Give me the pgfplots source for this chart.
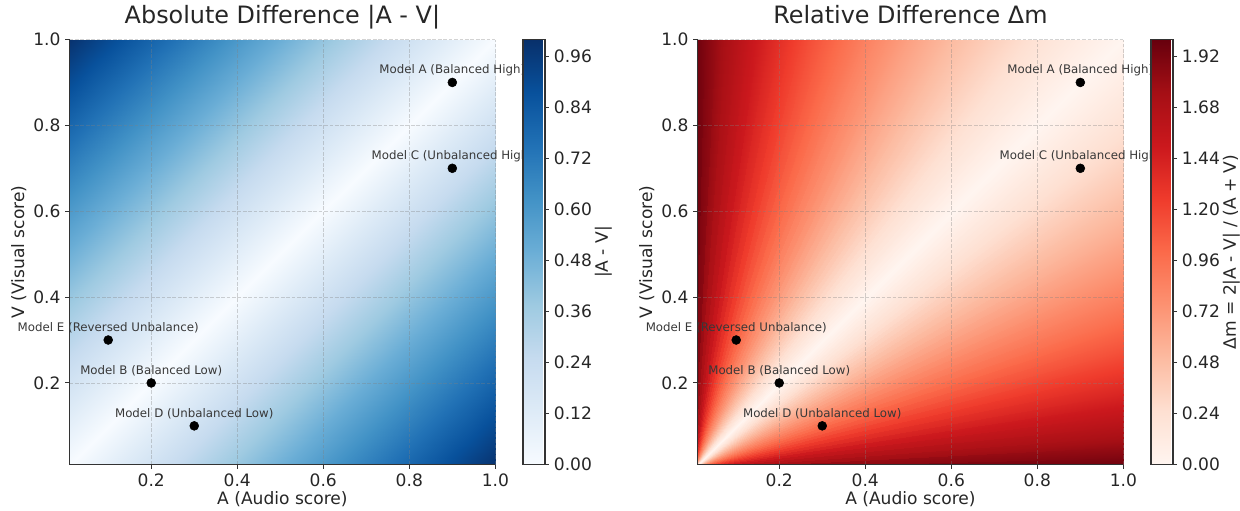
\documentclass[border=0pt]{standalone}
\usepackage{fontspec}
\setmainfont{DejaVu Sans}
\usepackage{pgfplots}
\pgfplotsset{compat=1.18}

\definecolor{txt}{HTML}{262626}
\definecolor{spine}{HTML}{333333}

\pgfplotsset{
  colormap={mplblues}{rgb255=(247,251,255) rgb255=(222,235,247) rgb255=(198,219,239) rgb255=(158,202,225) rgb255=(107,174,214) rgb255=(66,146,198) rgb255=(33,113,181) rgb255=(8,81,156) rgb255=(8,48,107)},
  colormap={mplreds}{rgb255=(255,245,240) rgb255=(254,224,210) rgb255=(252,187,161) rgb255=(252,146,114) rgb255=(251,106,74) rgb255=(239,59,44) rgb255=(203,24,29) rgb255=(165,15,21) rgb255=(103,0,13)},
  every axis/.append style={
    /pgf/number format/assume math mode=true,
    tick label style={font=\fontsize{12.3}{14}\selectfont, text=txt},
    label style={font=\fontsize{12.3}{14}\selectfont, text=txt},
  },
  heat/.style={
    scale only axis, width=306.6pt, height=306pt,
    xmin=0.01, xmax=1, ymin=0.01, ymax=1,
    axis on top,
    axis lines*=left,
    axis line style={spine, line width=1pt},
    xtick={0.2,0.4,0.6,0.8,1.0}, ytick={0.2,0.4,0.6,0.8,1.0},
    tick align=outside, major tick length=3pt,
    tick style={spine, line width=0.8pt},
    xticklabel style={/pgf/number format/.cd, fixed, fixed zerofill, precision=1},
    yticklabel style={/pgf/number format/.cd, fixed, fixed zerofill, precision=1},
    grid=major,
    major grid style={gray, opacity=0.35, line width=0.55pt, dash pattern=on 2.7pt off 1.2pt},
    title style={font=\fontsize{17.2}{20}\selectfont, text=txt, at={(0.5,1)}, anchor=base, yshift=5.8pt},
    xlabel style={at={(axis description cs:0.5,0)}, anchor=base, yshift=-28.7pt},
    ylabel style={at={(axis description cs:-0.119,0.5)}, anchor=center},
    xlabel={A (Audio score)},
    ylabel={V (Visual score)},
    colorbar,
  },
  cbar/.style={
    at={(parent axis.north east)}, anchor=north west, xshift=11.5pt,
    scale only axis, width=15.6pt, height=306pt,
    axis line style={spine, line width=1pt},
    xtick=\empty,
    ytick pos=right, yticklabel pos=right,
    tick align=outside, major tick length=3pt,
    tick style={spine, line width=0.8pt},
    yticklabel style={/pgf/number format/.cd, fixed, fixed zerofill, precision=2},
    every axis y label/.style={at={(axis description cs:3.70,0.5)}, rotate=90, anchor=center,
      font=\fontsize{12.3}{14}\selectfont, text=txt},
  },
  pts/.style={
    only marks, mark=*, mark size=3.2pt, black,
    nodes near coords, point meta=explicit symbolic,
    every node near coord/.append style={anchor=base, yshift=6.2pt, inner sep=0pt,
      font=\fontsize{8.5}{10}\selectfont, text=black!78},
  },
}

\begin{document}
\begin{tikzpicture}
\path[use as bounding box] (0,0) rectangle (892.8pt,367.2pt);

% ---------------- Left: absolute difference ----------------
\begin{axis}[heat,
  at={(50.04pt,32.76pt)}, anchor=south west,
  title={Absolute Difference |A - V|},
  colormap name=mplblues,
  point meta min=0, point meta max=1,
  colorbar style={cbar,
    ytick={0,0.12,0.24,0.36,0.48,0.60,0.72,0.84,0.96},
    ylabel={|A - V|}},
]
% rows of constant A - V (value |A - V|), five points along each row
\addplot[surf, shader=interp, mesh/rows=17, mesh/cols=5, point meta=explicit]
  table[meta=c] {
x y c
0.01 1.00 0.99
0.01 1.00 0.99
0.01 1.00 0.99
0.01 1.00 0.99
0.01 1.00 0.99
0.01 0.885 0.875
0.03875 0.91375 0.875
0.0675 0.9425 0.875
0.09625 0.97125 0.875
0.125 1.00 0.875
0.01 0.76 0.75
0.07 0.82 0.75
0.13 0.88 0.75
0.19 0.94 0.75
0.25 1.00 0.75
0.01 0.635 0.625
0.10125 0.72625 0.625
0.1925 0.8175 0.625
0.28375 0.90875 0.625
0.375 1.00 0.625
0.01 0.51 0.5
0.1325 0.6325 0.5
0.255 0.755 0.5
0.3775 0.8775 0.5
0.5 1.00 0.5
0.01 0.385 0.375
0.16375 0.53875 0.375
0.3175 0.6925 0.375
0.47125 0.84625 0.375
0.625 1.00 0.375
0.01 0.26 0.25
0.195 0.445 0.25
0.38 0.63 0.25
0.565 0.815 0.25
0.75 1.00 0.25
0.01 0.135 0.125
0.22625 0.35125 0.125
0.4425 0.5675 0.125
0.65875 0.78375 0.125
0.875 1.00 0.125
0.01 0.01 0.00
0.2575 0.2575 0.00
0.505 0.505 0.00
0.7525 0.7525 0.00
1.00 1.00 0.00
0.135 0.01 0.125
0.35125 0.22625 0.125
0.5675 0.4425 0.125
0.78375 0.65875 0.125
1.00 0.875 0.125
0.26 0.01 0.25
0.445 0.195 0.25
0.63 0.38 0.25
0.815 0.565 0.25
1.00 0.75 0.25
0.385 0.01 0.375
0.53875 0.16375 0.375
0.6925 0.3175 0.375
0.84625 0.47125 0.375
1.00 0.625 0.375
0.51 0.01 0.5
0.6325 0.1325 0.5
0.755 0.255 0.5
0.8775 0.3775 0.5
1.00 0.5 0.5
0.635 0.01 0.625
0.72625 0.10125 0.625
0.8175 0.1925 0.625
0.90875 0.28375 0.625
1.00 0.375 0.625
0.76 0.01 0.75
0.82 0.07 0.75
0.88 0.13 0.75
0.94 0.19 0.75
1.00 0.25 0.75
0.885 0.01 0.875
0.91375 0.03875 0.875
0.9425 0.0675 0.875
0.97125 0.09625 0.875
1.00 0.125 0.875
1.00 0.01 0.99
1.00 0.01 0.99
1.00 0.01 0.99
1.00 0.01 0.99
1.00 0.01 0.99
};
\addplot[pts] table[col sep=comma, meta=label] {
x,y,label
0.9,0.9,Model A (Balanced High)
0.2,0.2,Model B (Balanced Low)
0.9,0.7,Model C (Unbalanced High)
0.3,0.1,Model D (Unbalanced Low)
0.1,0.3,Model E (Reversed Unbalance)
};
\end{axis}

% ---------------- Right: relative difference ----------------
\begin{axis}[heat,
  at={(502.2pt,32.76pt)}, anchor=south west,
  title={Relative Difference Δm},
  colormap name=mplreds,
  point meta min=0, point meta max=2,
  colorbar style={cbar,
    ytick={0,0.24,0.48,0.72,0.96,1.20,1.44,1.68,1.92},
    ylabel={Δm = 2|A - V| / (A + V)}},
]
% rays from the origin: Δm is constant along each ray V/A = const
\addplot[surf, shader=interp, mesh/rows=81, mesh/cols=2, point meta=explicit]
  table[meta=c] {
x y c
0 0 2.0000
1.00 0.000 2.0000
0 0 1.9024
1.00 0.025 1.9024
0 0 1.8095
1.00 0.050 1.8095
0 0 1.7209
1.00 0.075 1.7209
0 0 1.6364
1.00 0.100 1.6364
0 0 1.5556
1.00 0.125 1.5556
0 0 1.4783
1.00 0.150 1.4783
0 0 1.4043
1.00 0.175 1.4043
0 0 1.3333
1.00 0.200 1.3333
0 0 1.2653
1.00 0.225 1.2653
0 0 1.2000
1.00 0.250 1.2000
0 0 1.1373
1.00 0.275 1.1373
0 0 1.0769
1.00 0.300 1.0769
0 0 1.0189
1.00 0.325 1.0189
0 0 0.9630
1.00 0.350 0.9630
0 0 0.9091
1.00 0.375 0.9091
0 0 0.8571
1.00 0.400 0.8571
0 0 0.8070
1.00 0.425 0.8070
0 0 0.7586
1.00 0.450 0.7586
0 0 0.7119
1.00 0.475 0.7119
0 0 0.6667
1.00 0.500 0.6667
0 0 0.6230
1.00 0.525 0.6230
0 0 0.5806
1.00 0.550 0.5806
0 0 0.5397
1.00 0.575 0.5397
0 0 0.5000
1.00 0.600 0.5000
0 0 0.4615
1.00 0.625 0.4615
0 0 0.4242
1.00 0.650 0.4242
0 0 0.3881
1.00 0.675 0.3881
0 0 0.3529
1.00 0.700 0.3529
0 0 0.3188
1.00 0.725 0.3188
0 0 0.2857
1.00 0.750 0.2857
0 0 0.2535
1.00 0.775 0.2535
0 0 0.2222
1.00 0.800 0.2222
0 0 0.1918
1.00 0.825 0.1918
0 0 0.1622
1.00 0.850 0.1622
0 0 0.1333
1.00 0.875 0.1333
0 0 0.1053
1.00 0.900 0.1053
0 0 0.0779
1.00 0.925 0.0779
0 0 0.0513
1.00 0.950 0.0513
0 0 0.0253
1.00 0.975 0.0253
0 0 0.0000
1.00 1.000 0.0000
0 0 0.0253
0.975 1.00 0.0253
0 0 0.0513
0.950 1.00 0.0513
0 0 0.0779
0.925 1.00 0.0779
0 0 0.1053
0.900 1.00 0.1053
0 0 0.1333
0.875 1.00 0.1333
0 0 0.1622
0.850 1.00 0.1622
0 0 0.1918
0.825 1.00 0.1918
0 0 0.2222
0.800 1.00 0.2222
0 0 0.2535
0.775 1.00 0.2535
0 0 0.2857
0.750 1.00 0.2857
0 0 0.3188
0.725 1.00 0.3188
0 0 0.3529
0.700 1.00 0.3529
0 0 0.3881
0.675 1.00 0.3881
0 0 0.4242
0.650 1.00 0.4242
0 0 0.4615
0.625 1.00 0.4615
0 0 0.5000
0.600 1.00 0.5000
0 0 0.5397
0.575 1.00 0.5397
0 0 0.5806
0.550 1.00 0.5806
0 0 0.6230
0.525 1.00 0.6230
0 0 0.6667
0.500 1.00 0.6667
0 0 0.7119
0.475 1.00 0.7119
0 0 0.7586
0.450 1.00 0.7586
0 0 0.8070
0.425 1.00 0.8070
0 0 0.8571
0.400 1.00 0.8571
0 0 0.9091
0.375 1.00 0.9091
0 0 0.9630
0.350 1.00 0.9630
0 0 1.0189
0.325 1.00 1.0189
0 0 1.0769
0.300 1.00 1.0769
0 0 1.1373
0.275 1.00 1.1373
0 0 1.2000
0.250 1.00 1.2000
0 0 1.2653
0.225 1.00 1.2653
0 0 1.3333
0.200 1.00 1.3333
0 0 1.4043
0.175 1.00 1.4043
0 0 1.4783
0.150 1.00 1.4783
0 0 1.5556
0.125 1.00 1.5556
0 0 1.6364
0.100 1.00 1.6364
0 0 1.7209
0.075 1.00 1.7209
0 0 1.8095
0.050 1.00 1.8095
0 0 1.9024
0.025 1.00 1.9024
0 0 2.0000
0.000 1.00 2.0000
};
\addplot[pts] table[col sep=comma, meta=label] {
x,y,label
0.9,0.9,Model A (Balanced High)
0.2,0.2,Model B (Balanced Low)
0.9,0.7,Model C (Unbalanced High)
0.3,0.1,Model D (Unbalanced Low)
0.1,0.3,Model E (Reversed Unbalance)
};
\end{axis}
\end{tikzpicture}
\end{document}
